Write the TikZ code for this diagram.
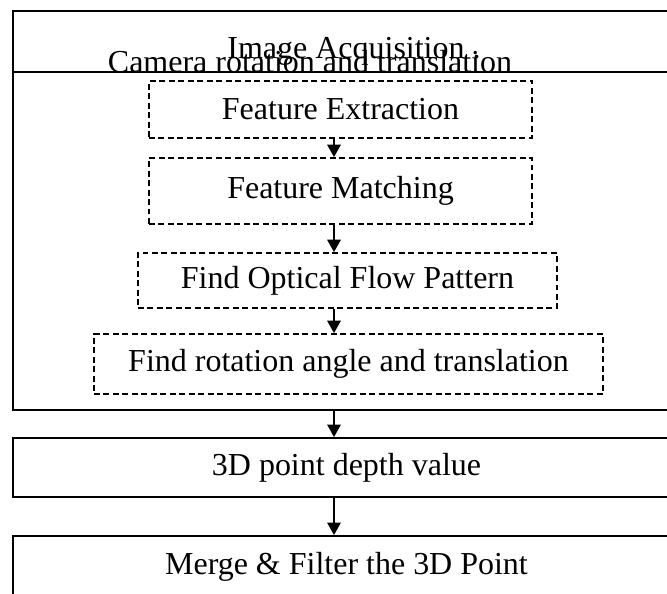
\documentclass[tikz,border=0pt]{standalone}
\usepackage{fontspec}
\setmainfont{Liberation Serif}
\usepackage{tikz}
\usetikzlibrary{arrows.meta,calc,positioning}

\begin{document}
\begin{tikzpicture}[
  font=\fontsize{18.2}{22}\selectfont,
  stage/.style={draw, line width=1.1pt, inner sep=0pt, minimum width=13.34cm},
  substage/.style={draw, line width=1pt, dash pattern=on 3.4pt off 2pt, inner sep=0pt},
  arr/.style={-{Triangle[length=0.25cm,width=0.27cm]}, line width=1pt}
]
\useasboundingbox (0,0) rectangle (13.34,-11.86);
\clip (0,0) rectangle (13.34,-11.86);
% outer stages
\node[stage, minimum height=1.22cm] (acq) at (6.93,-0.83) {};
\node[anchor=base] (acqtext) at (7.08,-1.16) {Image Acquisition .};
\node[stage, minimum height=6.76cm] (cam) at (6.93,-4.82) {};
\node[anchor=base] (camtext) at (6.2,-1.44) {Camera rotation and translation};
% inner dashed steps
\node[substage, minimum width=7.66cm, minimum height=1.14cm] (fe) at (6.81,-2.19) {Feature Extraction};
\node[substage, minimum width=7.66cm, minimum height=1.32cm] (fm) at (6.81,-3.82) {Feature Matching};
\node[substage, minimum width=8.38cm, minimum height=1.10cm] (of) at (6.95,-5.61) {Find Optical Flow Pattern};
\node[substage, minimum width=10.18cm, minimum height=1.20cm] (ra) at (6.97,-7.28) {Find rotation angle and translation};
% depth and merge
\node[stage, minimum height=1.18cm] (dv) at (6.93,-9.35) {3D point depth value};
\node[stage, minimum height=1.24cm] (mf) at (6.93,-11.34) {Merge \& Filter the 3D Point};
\coordinate (flow) at (6.68,0);
\draw[arr] (flow |- fe.south) -- (flow |- fm.north);
\draw[arr] (flow |- fm.south) -- (flow |- of.north);
\draw[arr] (flow |- of.south) -- (flow |- ra.north);
\draw[arr] (flow |- cam.south) -- (flow |- dv.north);
\draw[arr] (flow |- dv.south) -- (flow |- mf.north);
\end{tikzpicture}
\end{document}
